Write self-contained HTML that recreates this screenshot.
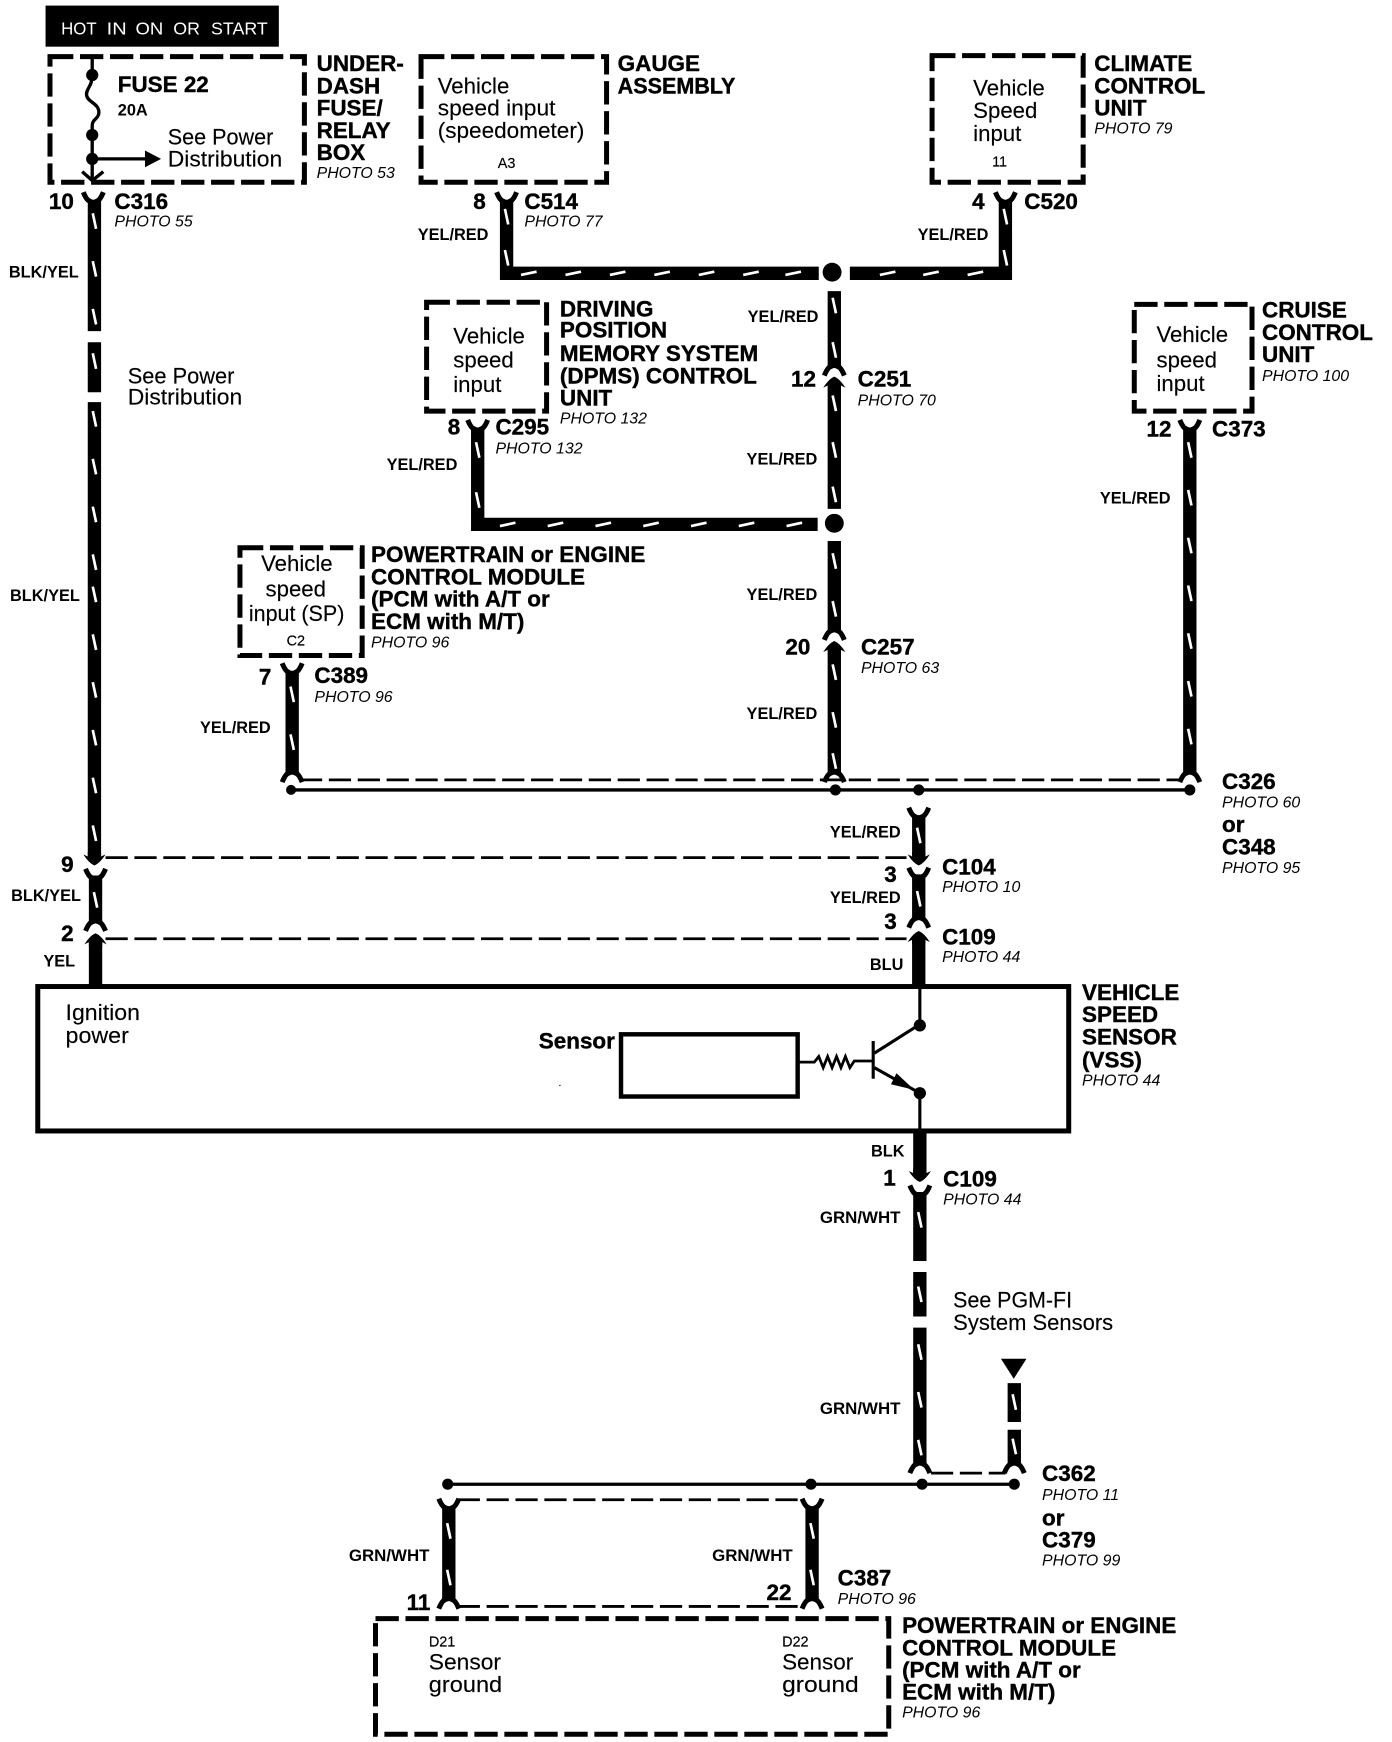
<!DOCTYPE html>
<html><head><meta charset="utf-8"><style>
html,body{margin:0;padding:0;background:#fff}
svg{display:block}
text{font-family:"Liberation Sans",Arial,sans-serif;fill:#000}
.b{font-size:20.2px;font-weight:bold;stroke:#000;stroke-width:.35px}
.r{font-size:20px;stroke:#000;stroke-width:.12px}
.s{font-size:14.7px;font-weight:bold}
.g{font-size:15.2px;font-weight:bold}
.t{font-size:13px;stroke:#000;stroke-width:.15px}
.p{font-size:14.3px;font-style:italic}
.box{fill:none;stroke:#000;stroke-width:4.5;stroke-dasharray:21 6;stroke-linejoin:miter}
.w{stroke:#000;stroke-width:12;fill:none}
.n{stroke:#000;stroke-width:3;fill:none}
.d{stroke:#000;stroke-width:2.5;fill:none;stroke-dasharray:20 6}
</style></head><body>
<svg width="1392" height="1742" viewBox="0 0 1253 1568" xmlns="http://www.w3.org/2000/svg">
<defs>
<path id="vt" d="M-1.5,-7 L1.5,7" stroke="#fff" stroke-width="2.4" fill="none"/>
<path id="ht" d="M-7,1.5 L7,-1.5" stroke="#fff" stroke-width="2.4" fill="none"/>
<path id="fu" d="M-9,-6 Q-7,-1 -5,1 Q-2,3 0,3 Q2,3 5,1 Q7,-1 9,-6" stroke="#000" stroke-width="4.5" fill="none"/>
<path id="fd" d="M-9,6 Q-7,1 -5,-1 Q-2,-3 0,-3 Q2,-3 5,-1 Q7,1 9,6" stroke="#000" stroke-width="4.5" fill="none"/>
<path id="ar" d="M-10,6 Q-5,-2 0,-4 Q5,-2 10,6 L6,4 L6,8 L-6,8 L-6,4 Z" fill="#000"/>
<path id="ad" d="M-10,-6 Q-5,2 0,4 Q5,2 10,-6 L6,-4 L6,-8 L-6,-8 L-6,-4 Z" fill="#000"/>
</defs>

<!-- top tag -->
<rect x="41" y="5" width="210" height="37" fill="#000"/>
<g font-size="16">
<text x="55" y="31" style="fill:#fff" textLength="32" lengthAdjust="spacingAndGlyphs">HOT</text>
<text x="96" y="31" style="fill:#fff" textLength="18" lengthAdjust="spacingAndGlyphs">IN</text>
<text x="122" y="31" style="fill:#fff" textLength="25" lengthAdjust="spacingAndGlyphs">ON</text>
<text x="156" y="31" style="fill:#fff" textLength="24" lengthAdjust="spacingAndGlyphs">OR</text>
<text x="190" y="31" style="fill:#fff" textLength="51" lengthAdjust="spacingAndGlyphs">START</text>
</g>

<!-- dashed component boxes -->
<rect class="box" x="45" y="51" width="229" height="113"/>
<rect class="box" x="379" y="51" width="167" height="113"/>
<rect class="box" x="839" y="50" width="136" height="114"/>
<rect class="box" x="384" y="272" width="108" height="98"/>
<rect class="box" x="1021" y="274" width="106" height="96"/>
<rect class="box" x="216" y="493" width="110" height="97"/>
<rect class="box" x="338" y="1457" width="462" height="104"/>

<!-- fuse -->
<path d="M83,51 V68 C83,78 77,80 78,86 C79,92 89,93 89,101 C89,107 83,107 83,113 V162" stroke="#000" stroke-width="3" fill="none"/>
<circle cx="83" cy="67.5" r="5.5"/><circle cx="83" cy="121.5" r="5.5"/><circle cx="83" cy="143" r="5.5"/>
<path d="M83,143 H132" stroke="#000" stroke-width="3"/>
<path d="M130.5,135.5 L145,143 L130.5,150.5 Z"/>
<path d="M74,154.5 L83,162.5 L93,154.5" stroke="#000" stroke-width="3" fill="none"/>

<!-- left long wire -->
<use href="#fu" x="84" y="179"/>
<path class="w" d="M85,180 V298 M85,308 V353 M85,362 V770"/>
<g>
<use href="#vt" x="85" y="199"/><use href="#vt" x="85" y="242"/><use href="#vt" x="85" y="285"/>
<use href="#vt" x="85" y="325"/><use href="#vt" x="85" y="377"/><use href="#vt" x="85" y="420"/>
<use href="#vt" x="85" y="463"/><use href="#vt" x="85" y="506"/><use href="#vt" x="85" y="535"/>
<use href="#vt" x="85" y="578"/><use href="#vt" x="85" y="621"/><use href="#vt" x="85" y="664"/>
<use href="#vt" x="85" y="707"/><use href="#vt" x="85" y="750"/>
</g>
<use href="#ad" x="85" y="775"/>
<use href="#fu" x="86" y="788"/>
<path class="w" d="M86,788 V830"/>
<use href="#vt" x="86" y="810"/>
<use href="#fd" x="86" y="832"/>
<use href="#ar" x="86" y="844"/>
<path class="w" d="M86,848 V888"/>
<path class="d" d="M95,772 H816"/>
<path class="d" d="M95,845 H816"/>

<!-- C514 / C520 wires -->
<use href="#fu" x="456" y="179"/>
<path class="w" d="M456,180 V246 H737"/>
<use href="#vt" x="456" y="195"/><use href="#vt" x="456" y="232"/>
<use href="#ht" x="476" y="246"/><use href="#ht" x="516" y="246"/><use href="#ht" x="556" y="246"/>
<use href="#ht" x="596" y="246"/><use href="#ht" x="636" y="246"/><use href="#ht" x="676" y="246"/><use href="#ht" x="714" y="246"/>
<circle cx="749" cy="245" r="8.5"/>
<use href="#fu" x="905" y="179"/>
<path class="w" d="M905,180 V246 H765"/>
<use href="#vt" x="905" y="195"/><use href="#vt" x="905" y="232"/>
<use href="#ht" x="799" y="246"/><use href="#ht" x="838" y="246"/><use href="#ht" x="878" y="246"/>

<!-- C251 column -->
<path class="w" d="M751,262 V331"/>
<use href="#vt" x="751" y="275"/><use href="#vt" x="751" y="315"/>
<use href="#fd" x="751" y="332"/>
<use href="#ar" x="751" y="343"/>
<path class="w" d="M751,350 V458"/>
<use href="#vt" x="751" y="363"/><use href="#vt" x="751" y="405"/><use href="#vt" x="751" y="445"/>
<circle cx="751" cy="471" r="8.5"/>

<!-- C295 -->
<use href="#fu" x="430" y="384"/>
<path class="w" d="M430,385 V472 H736"/>
<use href="#vt" x="430" y="405"/><use href="#vt" x="430" y="450"/>
<use href="#ht" x="457" y="472"/><use href="#ht" x="500" y="472"/><use href="#ht" x="543" y="472"/>
<use href="#ht" x="586" y="472"/><use href="#ht" x="629" y="472"/><use href="#ht" x="672" y="472"/><use href="#ht" x="715" y="472"/>

<!-- C257 column -->
<path class="w" d="M751,487 V569"/>
<use href="#vt" x="751" y="505"/><use href="#vt" x="751" y="548"/>
<use href="#fd" x="751" y="570"/>
<use href="#ar" x="751" y="581"/>
<path class="w" d="M751,588 V696"/>
<use href="#vt" x="751" y="605"/><use href="#vt" x="751" y="648"/><use href="#vt" x="751" y="685"/>
<use href="#fd" x="751" y="698"/>

<!-- C389 -->
<use href="#fu" x="263" y="603"/>
<path class="w" d="M263,604 V696"/>
<use href="#vt" x="263" y="625"/><use href="#vt" x="263" y="668"/>
<use href="#fd" x="263" y="698"/>

<!-- C373 -->
<use href="#fu" x="1071" y="384"/>
<path class="w" d="M1071,385 V696"/>
<use href="#vt" x="1071" y="405"/><use href="#vt" x="1071" y="448"/><use href="#vt" x="1071" y="491"/>
<use href="#vt" x="1071" y="534"/><use href="#vt" x="1071" y="577"/><use href="#vt" x="1071" y="620"/><use href="#vt" x="1071" y="663"/>
<use href="#fd" x="1071" y="698"/>

<!-- C326 splice -->
<path class="d" d="M270,702 H1064"/>
<path class="n" d="M262,711 H1071"/>
<circle cx="262" cy="711" r="4.5"/><circle cx="752" cy="711" r="5"/><circle cx="827" cy="711" r="5"/><circle cx="1071" cy="711" r="5"/>

<!-- centre column down -->
<use href="#fu" x="827" y="733"/>
<path class="w" d="M827,734 V770"/>
<use href="#vt" x="827" y="752"/>
<use href="#ad" x="827" y="775"/>
<use href="#fu" x="827" y="787"/>
<path class="w" d="M827,787 V828"/>
<use href="#vt" x="827" y="809"/>
<use href="#fd" x="827" y="829"/>
<use href="#ar" x="827" y="842"/>
<path class="w" d="M827,846 V888"/>

<!-- VSS -->
<rect x="34" y="888" width="928" height="130" fill="none" stroke="#000" stroke-width="4.5"/>
<rect x="559" y="931" width="159" height="56" fill="none" stroke="#000" stroke-width="4"/>
<path d="M828,888 V922 L787,948 M786,937 V971 M787,961 L828,984 V1018" stroke="#000" stroke-width="2.8" fill="none"/>
<path d="M807,966 L823,981 L802,976 Z"/>
<circle cx="828" cy="923" r="5.5"/><circle cx="828" cy="984" r="5.5"/>
<path d="M719,956 H733 L737,951 L741,961 L745,951 L749,961 L753,951 L757,961 L761,951 L765,961 L769,955 H786" stroke="#000" stroke-width="2.5" fill="none"/>
<circle cx="504" cy="977" r=".6"/>

<!-- below VSS -->
<path class="w" d="M828,1018 V1056"/>
<use href="#ad" x="828" y="1060"/>
<use href="#fu" x="828" y="1073"/>
<path class="w" d="M828,1073 V1135 M828,1145 V1185 M828,1195 V1318"/>
<use href="#vt" x="828" y="1098"/><use href="#vt" x="828" y="1165"/><use href="#vt" x="828" y="1217"/>
<use href="#vt" x="828" y="1260"/><use href="#vt" x="828" y="1303"/>
<use href="#fd" x="828" y="1320"/>
<path d="M901,1223 H924 L912.5,1241 Z"/>
<path class="w" d="M913,1245 V1280 M913,1287 V1318"/>
<use href="#vt" x="913" y="1262"/><use href="#vt" x="913" y="1302"/>
<use href="#fd" x="913" y="1320"/>
<path class="d" d="M838,1326 H905" stroke-dasharray="14 6"/>
<path class="n" d="M403,1336 H913"/>
<circle cx="403" cy="1336" r="5"/><circle cx="730" cy="1336" r="5"/><circle cx="830" cy="1336" r="5"/><circle cx="913" cy="1336" r="5"/>

<!-- PCM feeds -->
<use href="#fu" x="404" y="1355"/>
<path class="w" d="M404,1356 V1440"/>
<use href="#vt" x="404" y="1378"/><use href="#vt" x="404" y="1420"/>
<use href="#fd" x="404" y="1442"/>
<use href="#fu" x="731" y="1355"/>
<path class="w" d="M731,1356 V1440"/>
<use href="#vt" x="731" y="1378"/><use href="#vt" x="731" y="1420"/>
<use href="#fd" x="731" y="1442"/>
<path class="d" d="M412,1350 H722"/>
<path class="d" d="M412,1446 H722"/>

<!-- text -->
<text class="b" x="106" y="83">FUSE 22</text>
<text class="s" x="106" y="104">20A</text>
<text class="r" x="151" y="130" textLength="95" lengthAdjust="spacingAndGlyphs">See Power</text>
<text class="r" x="151" y="150" textLength="103" lengthAdjust="spacingAndGlyphs">Distribution</text>
<text class="b" x="285" y="64">UNDER-</text><text class="b" x="285" y="84">DASH</text><text class="b" x="285" y="104">FUSE/</text><text class="b" x="285" y="124">RELAY</text><text class="b" x="285" y="144">BOX</text>
<text class="p" x="285" y="160">PHOTO 53</text>
<text class="r" x="394" y="84">Vehicle</text><text class="r" x="394" y="104" textLength="106" lengthAdjust="spacingAndGlyphs">speed input</text><text class="r" x="394" y="124" textLength="132" lengthAdjust="spacingAndGlyphs">(speedometer)</text>
<text class="t" x="448" y="151">A3</text>
<text class="b" x="556" y="64">GAUGE</text><text class="b" x="556" y="84" textLength="106" lengthAdjust="spacingAndGlyphs">ASSEMBLY</text>
<text class="r" x="876" y="86">Vehicle</text><text class="r" x="876" y="106">Speed</text><text class="r" x="876" y="127">input</text>
<text class="t" x="893" y="150">11</text>
<text class="b" x="985" y="64">CLIMATE</text><text class="b" x="985" y="84">CONTROL</text><text class="b" x="985" y="104">UNIT</text>
<text class="p" x="985" y="120">PHOTO 79</text>

<text class="b" x="44" y="188">10</text><text class="b" x="103" y="188">C316</text><text class="p" x="103" y="204">PHOTO 55</text>
<text class="b" x="426" y="188">8</text><text class="b" x="472" y="188">C514</text><text class="p" x="472" y="204">PHOTO 77</text>
<text class="b" x="875" y="188">4</text><text class="b" x="922" y="188">C520</text>

<text class="s" x="376" y="216">YEL/RED</text>
<text class="s" x="826" y="216">YEL/RED</text>
<text class="s" x="673" y="290">YEL/RED</text>
<text class="s" x="672" y="418">YEL/RED</text>
<text class="s" x="348" y="423">YEL/RED</text>
<text class="s" x="990" y="453">YEL/RED</text>
<text class="s" x="672" y="540">YEL/RED</text>
<text class="s" x="672" y="647">YEL/RED</text>
<text class="s" x="180" y="660">YEL/RED</text>
<text class="s" x="747" y="754">YEL/RED</text>
<text class="s" x="747" y="813">YEL/RED</text>
<text class="s" x="8" y="250">BLK/YEL</text>
<text class="s" x="9" y="541">BLK/YEL</text>
<text class="s" x="10" y="811">BLK/YEL</text>

<text class="r" x="115" y="345" textLength="96" lengthAdjust="spacingAndGlyphs">See Power</text><text class="r" x="115" y="364" textLength="103" lengthAdjust="spacingAndGlyphs">Distribution</text>

<text class="r" x="408" y="309">Vehicle</text><text class="r" x="408" y="331">speed</text><text class="r" x="408" y="353">input</text>
<text class="b" x="504" y="285">DRIVING</text><text class="b" x="504" y="304">POSITION</text><text class="b" x="504" y="325">MEMORY SYSTEM</text><text class="b" x="504" y="345">(DPMS) CONTROL</text><text class="b" x="504" y="365">UNIT</text>
<text class="p" x="504" y="381">PHOTO 132</text>
<text class="b" x="712" y="348">12</text><text class="b" x="772" y="348">C251</text><text class="p" x="772" y="365">PHOTO 70</text>
<text class="b" x="403" y="391">8</text><text class="b" x="446" y="391">C295</text><text class="p" x="446" y="408">PHOTO 132</text>

<text class="r" x="1041" y="308">Vehicle</text><text class="r" x="1041" y="331">speed</text><text class="r" x="1041" y="352">input</text>
<text class="b" x="1136" y="286">CRUISE</text><text class="b" x="1136" y="306">CONTROL</text><text class="b" x="1136" y="326">UNIT</text>
<text class="p" x="1136" y="343">PHOTO 100</text>
<text class="b" x="1032" y="393">12</text><text class="b" x="1091" y="393">C373</text>

<text class="r" x="235" y="514">Vehicle</text><text class="r" x="239" y="537">speed</text><text class="r" x="224" y="559" textLength="86" lengthAdjust="spacingAndGlyphs">input (SP)</text>
<text class="t" x="258" y="581">C2</text>
<text class="b" x="334" y="506">POWERTRAIN or ENGINE</text><text class="b" x="334" y="526">CONTROL MODULE</text><text class="b" x="334" y="546">(PCM with A/T or</text><text class="b" x="334" y="566">ECM with M/T)</text>
<text class="p" x="334" y="583">PHOTO 96</text>
<text class="b" x="233" y="616">7</text><text class="b" x="283" y="615">C389</text><text class="p" x="283" y="632">PHOTO 96</text>
<text class="b" x="707" y="589">20</text><text class="b" x="775" y="589">C257</text><text class="p" x="775" y="606">PHOTO 63</text>

<text class="b" x="1100" y="710">C326</text><text class="p" x="1100" y="727">PHOTO 60</text>
<text class="b" x="1100" y="749">or</text>
<text class="b" x="1100" y="769">C348</text><text class="p" x="1100" y="786">PHOTO 95</text>

<text class="b" x="55" y="785">9</text><text class="b" x="55" y="847">2</text><text class="s" x="39" y="870">YEL</text>
<text class="b" x="796" y="794">3</text><text class="b" x="848" y="787">C104</text><text class="p" x="848" y="803">PHOTO 10</text>
<text class="b" x="796" y="836">3</text><text class="b" x="848" y="850">C109</text><text class="p" x="848" y="866">PHOTO 44</text>
<text class="s" x="783" y="873">BLU</text>

<text class="r" x="59" y="918" textLength="67" lengthAdjust="spacingAndGlyphs">Ignition</text><text class="r" x="59" y="939" textLength="57" lengthAdjust="spacingAndGlyphs">power</text>
<text class="b" x="485" y="944">Sensor</text>
<text class="b" x="974" y="900">VEHICLE</text><text class="b" x="974" y="920">SPEED</text><text class="b" x="974" y="940">SENSOR</text><text class="b" x="974" y="961">(VSS)</text>
<text class="p" x="974" y="977">PHOTO 44</text>

<text class="s" x="784" y="1041">BLK</text>
<text class="b" x="795" y="1067">1</text><text class="b" x="849" y="1068">C109</text><text class="p" x="849" y="1084">PHOTO 44</text>
<text class="g" x="738" y="1101">GRN/WHT</text>
<text class="g" x="738" y="1273">GRN/WHT</text>
<text class="r" x="858" y="1177" textLength="107" lengthAdjust="spacingAndGlyphs">See PGM-FI</text><text class="r" x="858" y="1197" textLength="144" lengthAdjust="spacingAndGlyphs">System Sensors</text>
<text class="b" x="938" y="1333">C362</text><text class="p" x="938" y="1350">PHOTO 11</text>
<text class="b" x="938" y="1373">or</text>
<text class="b" x="938" y="1393">C379</text><text class="p" x="938" y="1409">PHOTO 99</text>
<text class="g" x="314" y="1405">GRN/WHT</text>
<text class="g" x="641" y="1405">GRN/WHT</text>
<text class="b" x="754" y="1427">C387</text><text class="p" x="754" y="1444">PHOTO 96</text>
<text class="b" x="366" y="1449">11</text><text class="b" x="690" y="1440">22</text>

<text class="t" x="386" y="1482">D21</text><text class="r" x="386" y="1503" textLength="65" lengthAdjust="spacingAndGlyphs">Sensor</text><text class="r" x="386" y="1523" textLength="66" lengthAdjust="spacingAndGlyphs">ground</text>
<text class="t" x="704" y="1482">D22</text><text class="r" x="704" y="1503" textLength="64" lengthAdjust="spacingAndGlyphs">Sensor</text><text class="r" x="704" y="1523" textLength="69" lengthAdjust="spacingAndGlyphs">ground</text>
<text class="b" x="812" y="1470">POWERTRAIN or ENGINE</text><text class="b" x="812" y="1490">CONTROL MODULE</text><text class="b" x="812" y="1510">(PCM with A/T or</text><text class="b" x="812" y="1530">ECM with M/T)</text>
<text class="p" x="812" y="1546">PHOTO 96</text>
</svg>
</body></html>
